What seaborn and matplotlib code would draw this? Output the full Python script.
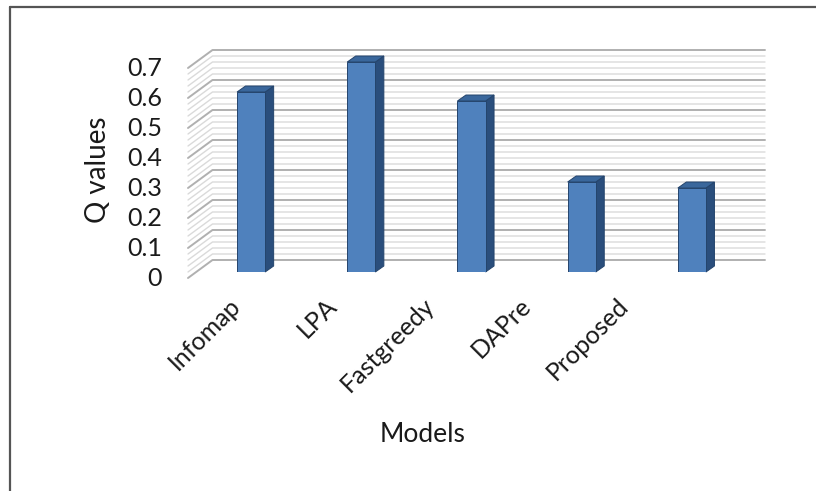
import numpy as np
import pandas as pd
import matplotlib
matplotlib.use("Agg")
import matplotlib.pyplot as plt
import matplotlib.transforms as mtransforms
from matplotlib.patches import Polygon
from matplotlib.lines import Line2D
import seaborn as sns

# ---- data -------------------------------------------------------------
models = ["Infomap", "LPA", "Fastgreedy", "DAPre", "Proposed"]
q_values = [0.60, 0.70, 0.57, 0.30, 0.28]
y_ticks = [0.0, 0.1, 0.2, 0.3, 0.4, 0.5, 0.6, 0.7]
y_tick_labels = ["0", "0.1", "0.2", "0.3", "0.4", "0.5", "0.6", "0.7"]
x_title = "Models"
y_title = "Q values"

# ---- style ------------------------------------------------------------
sns.set_theme(style="white")
plt.rcParams["font.family"] = ["Lato", "DejaVu Sans"]

FRONT = "#4f81bd"
TOP = "#3a679c"
SIDE = "#2a4e7c"
EDGE = "#24446c"
MAJOR = "#b0b0b0"
MINOR = "#dadada"
TEXT = "#1a1a1a"

W, H, DPI = 816, 491, 100
fig = plt.figure(figsize=(W / DPI, H / DPI), dpi=DPI)
fig.patch.set_facecolor("white")

# axes = front plane of the columns (pixel layout of the plot area)
left, right, base, top = 196, 747, 272, 62
ax = fig.add_axes([left / W, (H - base) / H, (right - left) / W, (base - top) / H])

df = pd.DataFrame({"model": models, "q": q_values})
sns.barplot(data=df, x="model", y="q", color=FRONT, width=0.255,
            edgecolor=EDGE, linewidth=0.7, saturation=1, ax=ax, zorder=5)
ax.set_xlim(-0.5, len(models) - 0.5)
ax.set_ylim(0, 0.7)
ax.set_axis_off()

to_axes = ax.transAxes.inverted()


def pt(xd, yd, dx=0.0, dy=0.0):
    """data point shifted by (dx, dy) display pixels, returned in axes coords"""
    px, py = ax.transData.transform((xd, yd))
    return to_axes.transform((px + dx, py + dy))


# depth offsets in pixels: column depth, wall behind, floor edge in front
BAR_DX, BAR_DY = 8.5, 6.0
WALL_DX, WALL_DY = 16.5, 12.0
FLOOR_DX, FLOOR_DY = -8.0, -6.0
wall_right_px = 765 - left

# back wall and side wall gridlines (major every 0.1, minor every 0.02)
minor_vals = np.round(np.arange(0, 0.7001, 0.02), 4)
for v in minor_vals:
    frac = (v * 10) % 1
    is_major = np.isclose(frac, 0) or np.isclose(frac, 1)
    col = MAJOR if is_major else MINOR
    lw = 1.4 if is_major else 1.0
    front_l = pt(-0.5, v, FLOOR_DX, FLOOR_DY)
    back_l = pt(-0.5, v, WALL_DX, WALL_DY)
    back_r = to_axes.transform((ax.transAxes.transform((0, 0))[0] + wall_right_px,
                                ax.transData.transform((0, v))[1] + WALL_DY))
    ax.add_line(Line2D([front_l[0], back_l[0], back_r[0]],
                       [front_l[1], back_l[1], back_r[1]],
                       transform=ax.transAxes, color=col, lw=lw,
                       clip_on=False, zorder=2 if is_major else 1))

# 3D faces of each column, built from the bar patches
for bar in ax.patches[:len(models)]:
    x0, w, h = bar.get_x(), bar.get_width(), bar.get_height()
    x1 = x0 + w
    side = [pt(x1, 0), pt(x1, 0, BAR_DX, BAR_DY), pt(x1, h, BAR_DX, BAR_DY), pt(x1, h)]
    topf = [pt(x0, h), pt(x1, h), pt(x1, h, BAR_DX, BAR_DY), pt(x0, h, BAR_DX, BAR_DY)]
    for verts, fc in ((side, SIDE), (topf, TOP)):
        ax.add_patch(Polygon(verts, closed=True, transform=ax.transAxes,
                             facecolor=fc, edgecolor=EDGE, linewidth=0.7,
                             clip_on=False, zorder=4))

# value labels on the front edge of the side wall
ylab_tr = ax.get_yaxis_transform() + mtransforms.ScaledTranslation(
    -34 / DPI, FLOOR_DY / DPI, fig.dpi_scale_trans)
for v, s in zip(y_ticks, y_tick_labels):
    ax.text(0, v, s, transform=ylab_tr, ha="right", va="center",
            fontsize=18, color=TEXT)

# category labels, rotated; they sit on the front edge of the floor,
# which is drawn slightly narrower than the column row
LABEL_SPREAD = 0.882
LABEL_SHIFT = -0.145
xlab_tr = ax.get_xaxis_transform() + mtransforms.ScaledTranslation(
    1 / DPI, -30 / DPI, fig.dpi_scale_trans)
for i, s in enumerate(models):
    ax.text(LABEL_SHIFT + LABEL_SPREAD * i, 0, s, transform=xlab_tr,
            ha="right", va="center", rotation=45, rotation_mode="anchor",
            fontsize=18, color=TEXT)

fig.text(423 / W, 1 - 434 / H, x_title, ha="center", va="center",
         fontsize=19, color=TEXT)
fig.text(98 / W, 1 - 170 / H, y_title, ha="center", va="center",
         rotation=90, fontsize=20, color=TEXT)

# thin frame on the top and left edges
fig.add_artist(Line2D([9.5 / W, 9.5 / W], [0, 1 - 7 / H], transform=fig.transFigure,
                      color="#555555", lw=1.6))
fig.add_artist(Line2D([9.5 / W, 1], [1 - 7 / H, 1 - 7 / H], transform=fig.transFigure,
                      color="#555555", lw=1.6))

fig.savefig("out.png", dpi=DPI, facecolor="white")
